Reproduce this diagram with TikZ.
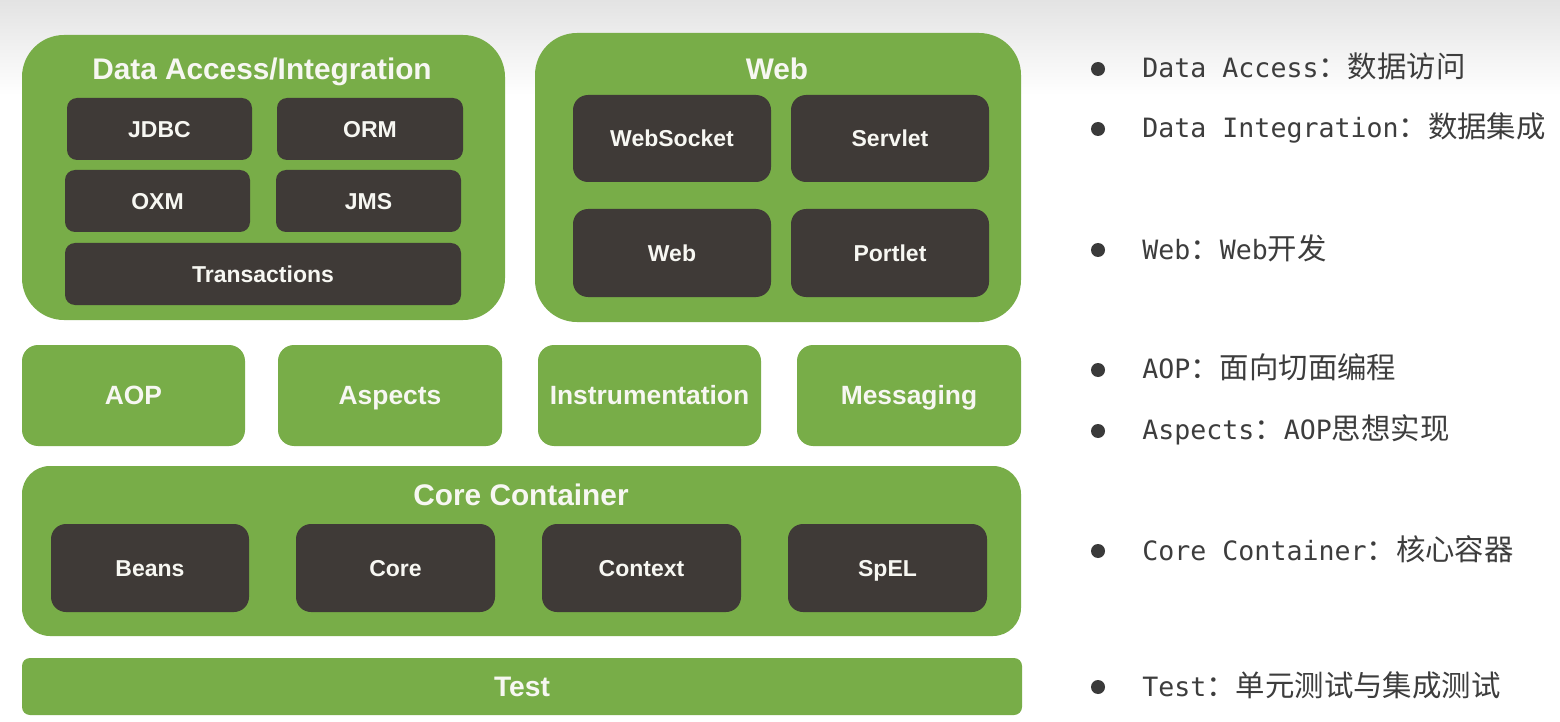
\documentclass[tikz,border=0pt]{standalone}
\usepackage{fontspec}
\setmainfont{Liberation Sans}
\newfontfamily\monof{DejaVu Sans Mono}
\newfontfamily\cjk{Noto Sans CJK SC}
\definecolor{sgreen}{HTML}{78AD48}
\definecolor{sdark}{HTML}{3F3A37}
\definecolor{stext}{HTML}{3D3D3D}
\definecolor{soff}{HTML}{F7F7F2}
\newcommand\zh[1]{{\cjk\fontsize{14.7}{17}\selectfont #1}}
% \bx{name}{style}{x1}{y1}{x2}{y2}{text}  (coordinates in px)
\newcommand\bx[7]{\node[#2, minimum width={(#5-#3)*0.5pt}, minimum height={(#6-#4)*0.5pt}]
  (#1) at ({(#3+#5)/2},{(#4+#6)/2}) {#7};}
\begin{document}
\begin{tikzpicture}[x=0.5pt,y=-0.5pt,
  grnbig/.style={fill=sgreen, draw=none, inner sep=0pt},
  grnmid/.style={fill=sgreen, draw=none, inner sep=0pt, rounded corners=8pt, text=soff,
     font=\bfseries\fontsize{13.2}{15}\selectfont, text height=9.45pt, text depth=0pt},
  dkbox/.style={fill=sdark, draw=none, inner sep=0pt, text=soff,
     font=\bfseries\fontsize{11.5}{13}\selectfont, text height=8.23pt, text depth=0pt},
  ttl/.style={inner sep=0pt, text=soff, font=\bfseries\fontsize{14.9}{17}\selectfont,
     text height=10.67pt, text depth=0pt},
  bul/.style={circle, fill=stext!95!black, draw=none, inner sep=0pt, minimum size=7pt},
  rtext/.style={anchor=base west, inner sep=0pt, text=stext, font=\monof\fontsize{13.3}{16}\selectfont}
]
\useasboundingbox (0,0) rectangle (1560,722);
\fill[white] (0,0) rectangle (1560,722);
\shade[top color=black!11, bottom color=white] (0,0) rectangle (1560,95);

% Data Access / Integration
\bx{da}{grnbig, rounded corners=21pt}{22}{35}{505}{320}{}
\node[ttl] (dat) at (262,69) {Data Access/Integration};
\bx{jdbc}{dkbox, rounded corners=5pt}{67}{98}{252}{160}{JDBC}
\bx{orm}{dkbox, rounded corners=5pt}{277}{98}{463}{160}{ORM}
\bx{oxm}{dkbox, rounded corners=5pt}{65}{170}{250}{232}{OXM}
\bx{jms}{dkbox, rounded corners=5pt}{276}{170}{461}{232}{JMS}
\bx{tx}{dkbox, rounded corners=5pt}{65}{243}{461}{305}{Transactions}

% Web
\bx{web}{grnbig, rounded corners=21pt}{535}{33}{1021}{322}{}
\node[ttl] (webt) at (777,69) {Web};
\bx{ws}{dkbox, rounded corners=7.5pt}{573}{95}{771}{182}{WebSocket}
\bx{sv}{dkbox, rounded corners=7.5pt}{791}{95}{989}{182}{Servlet}
\bx{wb}{dkbox, rounded corners=7.5pt}{573}{209}{771}{297}{Web}
\bx{pt}{dkbox, rounded corners=7.5pt}{791}{209}{989}{297}{Portlet}

% middle row
\bx{aop}{grnmid}{22}{345}{245}{446}{AOP}
\bx{asp}{grnmid}{278}{345}{502}{446}{Aspects}
\bx{ins}{grnmid}{538}{345}{761}{446}{Instrumentation}
\bx{msg}{grnmid}{797}{345}{1021}{446}{Messaging}

% Core container
\bx{cc}{grnbig, rounded corners=14pt}{22}{466}{1021}{636}{}
\node[ttl] (cct) at (521,495) {Core Container};
\bx{beans}{dkbox, rounded corners=7.5pt}{51}{524}{249}{612}{Beans}
\bx{core}{dkbox, rounded corners=7.5pt}{296}{524}{495}{612}{Core}
\bx{ctx}{dkbox, rounded corners=7.5pt}{542}{524}{741}{612}{Context}
\bx{spel}{dkbox, rounded corners=7.5pt}{788}{524}{987}{612}{SpEL}

% Test
\bx{test}{grnbig, rounded corners=4pt, text=soff, font=\bfseries\fontsize{14.1}{16}\selectfont,
   text height=10.1pt, text depth=0pt}{22}{658}{1022}{715}{Test}

% right side list
\node[bul] (b1) at (1098,69) {};
\node[rtext] (t1) at (1142,78) {Data Access\zh{：数据访问}};
\node[bul] (b2) at (1098,129) {};
\node[rtext] (t2) at (1142,138) {Data Integration\zh{：数据集成}};
\node[bul] (b3) at (1098,250) {};
\node[rtext] (t3) at (1142,259) {Web\zh{：}Web\zh{开发}};
\node[bul] (b4) at (1098,370) {};
\node[rtext] (t4) at (1142,379) {AOP\zh{：面向切面编程}};
\node[bul] (b5) at (1098,431) {};
\node[rtext] (t5) at (1142,439) {Aspects\zh{：}AOP\zh{思想实现}};
\node[bul] (b6) at (1098,551) {};
\node[rtext] (t6) at (1142,560) {Core Container\zh{：核心容器}};
\node[bul] (b7) at (1098,687) {};
\node[rtext] (t7) at (1142,696) {Test\zh{：单元测试与集成测试}};
\end{tikzpicture}
\end{document}
